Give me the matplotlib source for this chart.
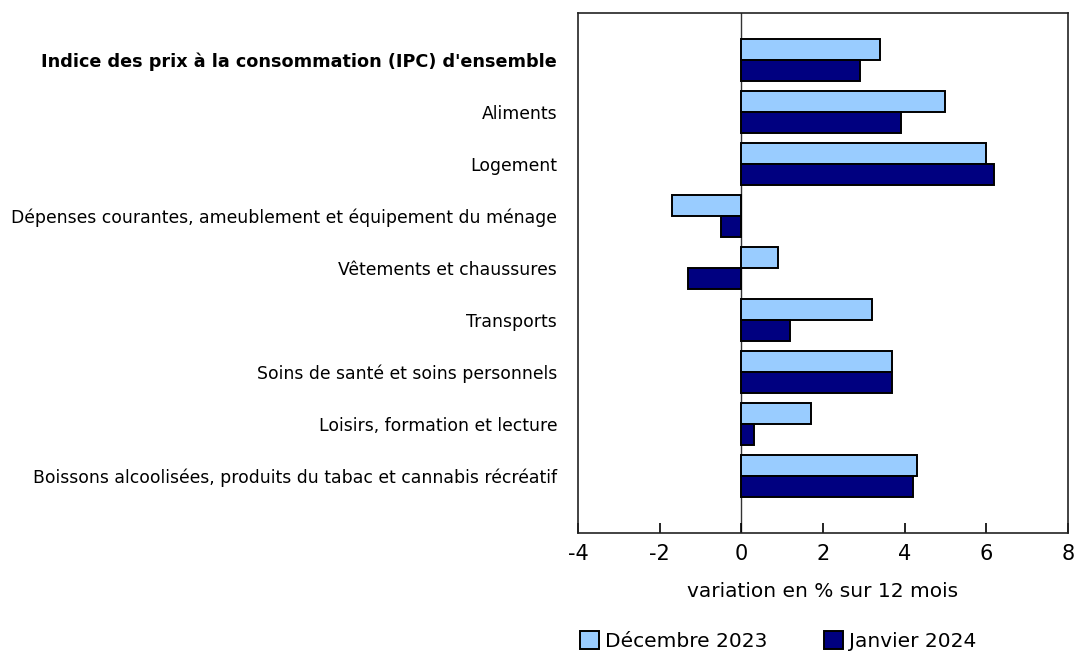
import matplotlib
matplotlib.use("Agg")
import matplotlib.pyplot as plt
import numpy as np

plt.rcParams.update({
    "font.family": "DejaVu Sans",
    "figure.dpi": 100,
})

categories = [
    "Indice des prix à la consommation (IPC) d'ensemble",
    "Aliments",
    "Logement",
    "Dépenses courantes, ameublement et équipement du ménage",
    "Vêtements et chaussures",
    "Transports",
    "Soins de santé et soins personnels",
    "Loisirs, formation et lecture",
    "Boissons alcoolisées, produits du tabac et cannabis récréatif",
]
dec_2023 = [3.4, 5.0, 6.0, -1.7, 0.9, 3.2, 3.7, 1.7, 4.3]
jan_2024 = [2.9, 3.9, 6.2, -0.5, -1.3, 1.2, 3.7, 0.3, 4.2]
series_names = ["Décembre 2023", "Janvier 2024"]
xticks = [-4, -2, 0, 2, 4, 6, 8]

C_DEC = "#99ccff"
C_JAN = "#000080"

fig = plt.figure(figsize=(10.76, 6.54))
ax = fig.add_axes([578 / 1076, 121 / 654, 490 / 1076, 520 / 654])

y = np.arange(len(categories))
h = 0.40
ax.barh(y - h / 2, dec_2023, height=h, color=C_DEC, edgecolor="black",
        linewidth=1.4, label=series_names[0])
ax.barh(y + h / 2, jan_2024, height=h, color=C_JAN, edgecolor="black",
        linewidth=1.4, label=series_names[1])

ax.axvline(0, color="#333333", lw=1.0, zorder=0.5)
ax.set_xlim(-4, 8)
ax.set_ylim(len(categories) - 1 + 1.1, -0.9)
ax.set_xticks(xticks)
ax.set_xticklabels([str(t) for t in xticks], fontsize=15)
ax.tick_params(axis="x", direction="in", length=7, width=1.2, pad=8)
ax.set_yticks(y)
ax.set_yticklabels(categories, fontsize=12.4)
ax.tick_params(axis="y", length=0, pad=15)
ax.get_yticklabels()[0].set_fontweight("bold")
ax.get_yticklabels()[0].set_fontsize(12.7)
for s in ax.spines.values():
    s.set_linewidth(1.2)
    s.set_color("#222222")
ax.set_xlabel("variation en % sur 12 mois", fontsize=14.5, labelpad=13)

fig.legend(loc="center", bbox_to_anchor=(778 / 1076, 1 - 641 / 654), ncol=2,
           frameon=False, fontsize=14.5, handlelength=0.95, handleheight=0.95,
           columnspacing=2.8, handletextpad=0.3)

fig.savefig("out.png", dpi=100, facecolor="white")
